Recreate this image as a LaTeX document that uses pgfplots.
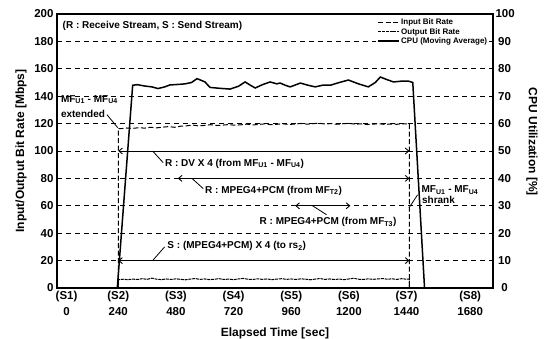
\documentclass[border=0pt]{standalone}
\usepackage{fontspec}
\setmainfont{Liberation Sans}
\usepackage{pgfplots}
\pgfplotsset{compat=1.18}
\usetikzlibrary{arrows.meta}
\begin{document}
\begin{tikzpicture}
\pgfplotsset{
  common/.style={scale only axis, width=436pt, height=274pt, xmin=-15, xmax=1800,
    /pgf/number format/assume math mode=true,
    tick label style={font=\bfseries\fontsize{11.5}{14}\selectfont},
    axis line style={line width=1.1pt},
    tick style={black, line width=0.6pt},
    major tick length=2.5pt, tick align=inside,
  },
}
\tikzset{
  inp/.style={black, line width=1pt, dash pattern=on 5pt off 2.5pt},
  outp/.style={black, line width=1pt, dash pattern=on 3pt off 0.8pt},
  cpu/.style={black, line width=1.5pt},
  arr/.style={line width=0.9pt, {Straight Barb[length=3.5pt,width=6pt,line width=0.9pt]}-{Straight Barb[length=3.5pt,width=6pt,line width=0.9pt]}},
  lead/.style={line width=0.8pt},
  ann/.style={font=\bfseries\fontsize{10}{12}\selectfont, inner sep=0pt},
  lab/.style={font=\bfseries\fontsize{12}{14}\selectfont},
}
\begin{axis}[common, ymin=0, ymax=200, ytick={0,20,...,200},
  ytick pos=left, xtick pos=bottom,
  xtick={0,240,...,1680},
  xticklabels={{\hspace*{12pt}(S1)\\\hspace*{12pt}0},{(S2)\\240},{(S3)\\480},{(S4)\\720},{(S5)\\960},{(S6)\\1200},{(S7)\\1440},{\hspace*{12pt}(S8)\\\hspace*{12pt}1680}},
  xticklabel style={align=center, font=\bfseries\fontsize{11.5}{16}\selectfont},
  xtick style={draw=none},
  ymajorgrids, major grid style={black, line width=0.6pt, dash pattern=on 5pt off 4pt},
  xlabel={Elapsed Time [sec]},
  ylabel={Input/Output Bit Rate [Mbps]},
  every axis x label/.style={at={(axis description cs:0.5,-0.164)}, anchor=center, lab},
  every axis y label/.style={at={(axis description cs:-0.0826,0.5)}, rotate=90, anchor=center, lab},
  legend style={at={(rel axis cs:0.992,0.99)}, anchor=north east, draw=none, fill=white,
    font=\bfseries\fontsize{8}{9}\selectfont, inner sep=1pt, row sep=-0.5pt, cells={anchor=west},
    nodes={inner sep=1.2pt}},
  legend image code/.code={\draw[#1] (0pt,0pt) -- (21pt,0pt);},
]
\addplot[inp] coordinates {
(0,0)(240,0)(240,116.5)(250,116.3)(275,116.8)(300,116.5)(325,117.0)(350,116.7)(375,117.3)(400,116.9)
(425,117.4)(450,117.8)(475,117.3)(500,118.1)(525,118.4)(550,118.9)(575,118.3)(600,118.7)(625,119.2)
(650,118.6)(675,118.9)(700,119.3)(725,118.8)(750,119.1)(775,119.6)(800,119.0)(825,119.4)(850,119.8)
(875,119.2)(900,119.5)(925,119.9)(950,119.3)(975,119.7)(1000,120.1)(1025,119.6)(1050,119.9)(1075,120.3)
(1100,119.7)(1125,120.0)(1150,119.5)(1175,119.9)(1200,120.2)(1225,119.6)(1250,119.8)(1275,119.3)
(1300,119.6)(1325,119.9)(1350,119.4)(1375,119.7)(1400,119.5)(1425,119.9)(1452,119.6)(1452,0)(1800,0)};
\addlegendentry{Input Bit Rate}
\addplot[outp] coordinates {
(0,0)(240,0)(240,6.0)(260,6.4)(280,6.1)(300,6.5)(320,6.2)(340,6.8)(360,6.3)(380,7.2)(400,6.4)(420,6.1)
(440,6.6)(460,6.2)(480,6.7)(500,6.3)(520,6.0)(540,6.5)(560,6.9)(580,6.3)(600,6.6)(620,6.1)(640,6.4)
(660,6.8)(680,6.2)(700,6.5)(720,6.1)(740,6.6)(760,7.0)(780,6.4)(800,6.2)(820,6.7)(840,6.3)(860,6.6)
(880,6.1)(900,6.5)(920,6.8)(940,6.3)(960,6.6)(980,6.2)(1000,6.7)(1020,6.4)(1040,6.0)(1060,6.5)(1080,6.9)
(1100,6.3)(1120,6.6)(1140,6.2)(1160,6.5)(1180,6.1)(1200,6.6)(1220,7.1)(1240,6.4)(1260,6.2)(1280,6.7)
(1300,6.3)(1320,6.6)(1340,6.9)(1360,6.4)(1380,6.7)(1400,6.3)(1420,6.8)(1440,6.4)(1452,6.5)(1452,0)(1800,0)};
\addlegendentry{Output Bit Rate}
\addlegendimage{cpu}
\addlegendentry{CPU (Moving Average)}
\coordinate (SW) at (rel axis cs:0,0);
% annotations
\node[ann, anchor=base west] at (8,189.3) {(R : Receive Stream, S : Send Stream)};
\node[ann, anchor=base west] at (1,135.5) {MF\textsubscript{U1} - MF\textsubscript{U4}};
\node[ann, anchor=base west] at (1,124.8) {extended};
\draw[lead] (193,126.5) -- (238,117);
\node[ann, anchor=base west] at (1502,69.5) {MF\textsubscript{U1} - MF\textsubscript{U4}};
\node[ann, anchor=base west] at (1504,62.0) {shrank};
\draw[lead] (1450,58.4) -- (1486,68);
\draw[arr] (240,100) -- (1452,100);
\draw[lead] (383,100) -- (427,91.5);
\node[ann, anchor=base west] at (434,88.7) {R : DV X 4 (from MF\textsubscript{U1} - MF\textsubscript{U4})};
\draw[arr] (488,80) -- (1452,80);
\draw[lead] (547,80) -- (594,72.5);
\node[ann, anchor=base west] at (601,69) {R : MPEG4+PCM (from MF\textsubscript{T2})};
\draw[arr] (977,60) -- (1206,60);
\draw[lead] (1049,60) -- (1107,53.5);
\node[ann, anchor=base west] at (828,46.3) {R : MPEG4+PCM (from MF\textsubscript{T3})};
\draw[arr] (240,20) -- (1452,20);
\draw[lead] (383,20) -- (433,30);
\node[ann, anchor=base west] at (444,28.8) {S : (MPEG4+PCM) X 4 (to rs\textsubscript{2})};
\end{axis}
\begin{axis}[common, ymin=0, ymax=100, ytick={0,10,...,100},
  axis y line*=right, axis x line=none,
  yticklabel style={text width=18pt, align=center, anchor=west, xshift=-1pt},
  ylabel={CPU Utilization [\%]},
  every axis y label/.style={at={(axis description cs:1.0894,0.533)}, rotate=-90, anchor=center, lab},
]
\addplot[cpu] coordinates {
(0,0)(236,0)(300,74)(320,74.2)(351,73.7)(380,73.4)(405,72.8)(430,73.3)(455,74.1)(490,74.3)(518,74.5)
(545,75.0)(568,76.4)(585,75.8)(601,75.2)(622,73.2)(660,72.9)(705,72.6)(740,73.6)(768,75.2)(790,74.0)
(810,73.0)(840,74.2)(872,75.2)(900,74.5)(914,74.8)(935,74.0)(956,73.4)(980,74.2)(998,74.8)(1030,74.0)
(1060,73.4)(1090,74.0)(1123,74.0)(1160,75.0)(1198,75.9)(1240,74.5)(1281,73.4)(1310,75.0)(1331,77.0)
(1360,76.0)(1386,75.2)(1420,75.5)(1448,75.5)(1466,75.0)(1515,0)(1800,0)};
\end{axis}
\pgfresetboundingbox
\path[use as bounding box] (SW) ++(-57pt,-51pt) rectangle ++(545pt,339pt);
\end{tikzpicture}
\end{document}
